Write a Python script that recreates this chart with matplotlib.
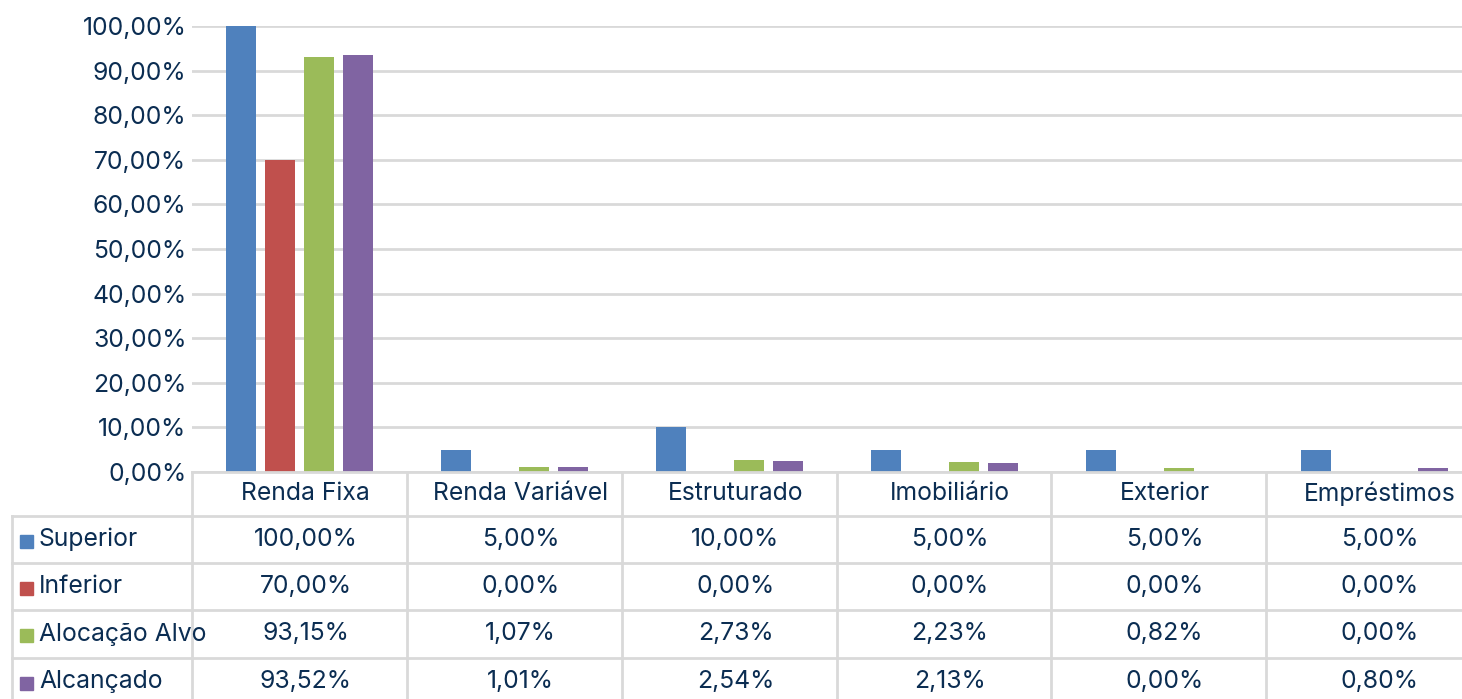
import numpy as np
import matplotlib.pyplot as plt
from matplotlib.lines import Line2D
from matplotlib.patches import Rectangle

categories = ["Renda Fixa", "Renda Variável", "Estruturado", "Imobiliário", "Exterior", "Empréstimos"]
series_names = ["Superior", "Inferior", "Alocação Alvo", "Alcançado"]
superior = [100.00, 5.00, 10.00, 5.00, 5.00, 5.00]
inferior = [70.00, 0.00, 0.00, 0.00, 0.00, 0.00]
alvo = [93.15, 1.07, 2.73, 2.23, 0.82, 0.00]
alcancado = [93.52, 1.01, 2.54, 2.13, 0.00, 0.80]
colors = ["#4f81bd", "#c0504d", "#9bbb59", "#8064a2"]
yticks = [0, 10, 20, 30, 40, 50, 60, 70, 80, 90, 100]

W, H = 1462, 699
TXT = "#0b2d52"
GRID = "#d9d9d9"
FS = 17.8
plt.rcParams["font.family"] = ["Inter", "DejaVu Sans"]


def fx(px):
    return px / W


def fy(py):
    return 1 - py / H


def fmt(v):
    return f"{v:.2f}".replace(".", ",") + "%"


fig = plt.figure(figsize=(W / 100, H / 100), dpi=100)
# plot area runs a little past the right edge of the image, as in the source
ax = fig.add_axes([fx(192), fy(472), fx(1482) - fx(192), fy(26) - fy(472)])

data = [superior, inferior, alvo, alcancado]
x = np.arange(len(categories))
step = 0.181
width = 0.142
for i, (vals, c) in enumerate(zip(data, colors)):
    ax.bar(x + (i - 1.5) * step, vals, width, color=c, zorder=3)

ax.set_xlim(-0.5, len(categories) - 0.5)
ax.set_ylim(0, 100)
ax.set_yticks(yticks)
ax.set_yticklabels([fmt(v) for v in yticks], fontsize=FS, color=TXT)
ax.set_xticks([])
ax.tick_params(axis="y", length=0, pad=4)
ax.grid(axis="y", color=GRID, linewidth=2, zorder=0)
for s in ax.spines.values():
    s.set_visible(False)

# data table below the plot
col_edges = [192, 407, 622, 837, 1051, 1266, 1481]
row_edges = [472, 516, 563, 610, 658, 705]
lw = 2

fig.add_artist(Line2D([fx(192), fx(1462)], [fy(472), fy(472)], transform=fig.transFigure,
                      color=GRID, lw=lw))
for yy in row_edges[1:-1]:
    fig.add_artist(Line2D([fx(12), fx(1462)], [fy(yy), fy(yy)], transform=fig.transFigure,
                          color=GRID, lw=lw))
for xx in col_edges[:-1]:
    fig.add_artist(Line2D([fx(xx), fx(xx)], [fy(472), fy(699)], transform=fig.transFigure,
                          color=GRID, lw=lw))
fig.add_artist(Line2D([fx(12), fx(12)], [fy(516), fy(699)], transform=fig.transFigure,
                      color=GRID, lw=lw))

for j, cat in enumerate(categories):
    cx = (col_edges[j] + col_edges[j + 1]) / 2 + 6
    fig.text(fx(cx), fy(494), cat, ha="center", va="center", fontsize=FS, color=TXT)

for i, (name, vals, c) in enumerate(zip(series_names, data, colors)):
    cy = (row_edges[i + 1] + row_edges[i + 2]) / 2
    fig.add_artist(Rectangle((fx(20), fy(cy + 8)), fx(13), fy(0) - fy(13),
                             transform=fig.transFigure, color=c))
    fig.text(fx(39), fy(cy), name, ha="left", va="center", fontsize=FS, color=TXT)
    for j, v in enumerate(vals):
        cx = (col_edges[j] + col_edges[j + 1]) / 2 + 6
        fig.text(fx(cx), fy(cy), fmt(v), ha="center", va="center", fontsize=FS, color=TXT)

fig.savefig("out.png", dpi=100)
